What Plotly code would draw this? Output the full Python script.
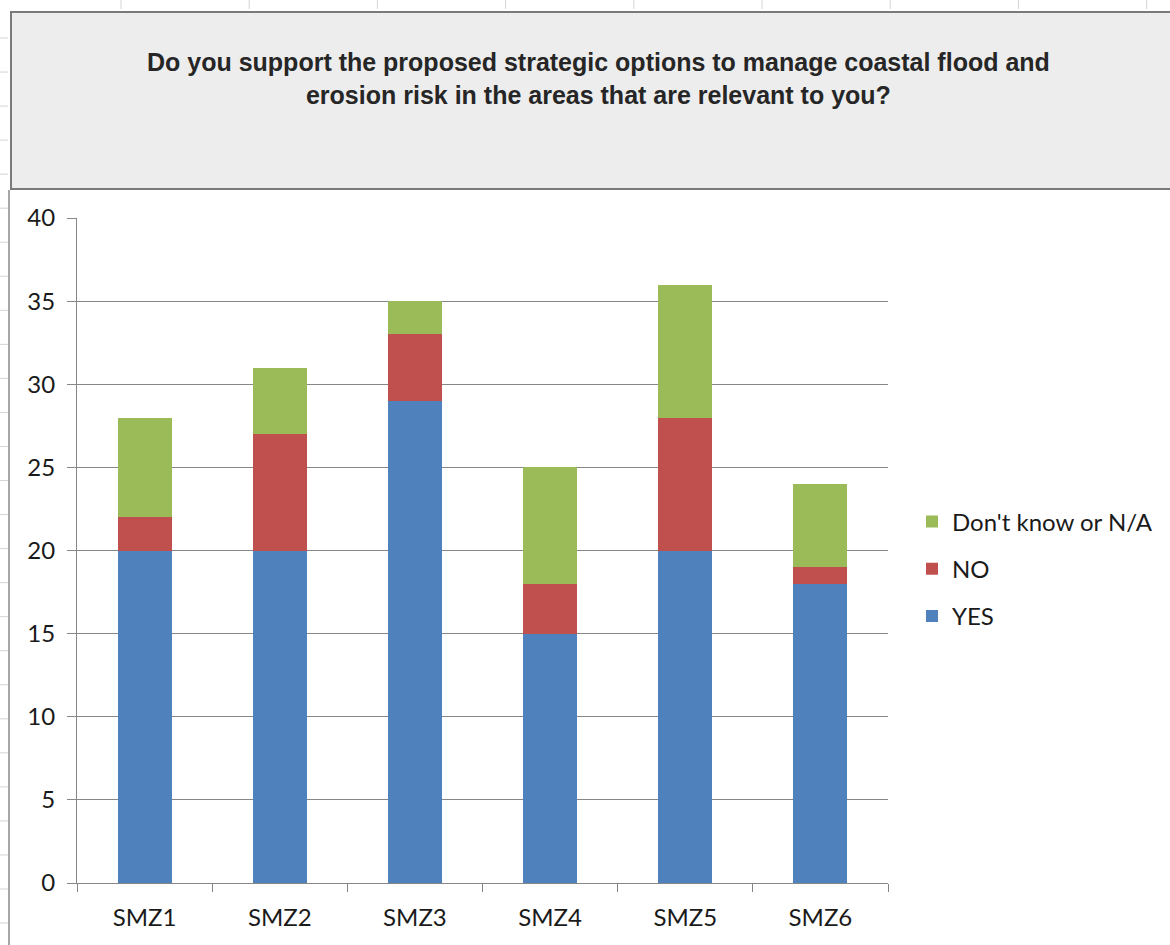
import plotly.graph_objects as go

# Survey responses per shoreline management zone
zones = ["SMZ1", "SMZ2", "SMZ3", "SMZ4", "SMZ5", "SMZ6"]
yes_counts = [20, 20, 29, 15, 20, 18]
no_counts = [2, 7, 4, 3, 8, 1]
dont_know_counts = [6, 4, 2, 7, 8, 5]
y_ticks = [0, 5, 10, 15, 20, 25, 30, 35, 40]

title_text = ("Do you support the proposed strategic options to manage coastal flood and<br>"
              "erosion risk in the areas that are relevant to you?")

W, H = 1170, 945


def px(x):
    return x / W


def py(y):
    return 1 - y / H


# (name, values, colour, legend rank) - stacked bottom to top
series = [
    ("YES", yes_counts, "#4F81BD", 3),
    ("NO", no_counts, "#C0504D", 2),
    ("Don't know or N/A", dont_know_counts, "#9BBB59", 1),
]

fig = go.Figure()
for name, vals, color, rank in series:
    fig.add_trace(go.Bar(
        x=zones, y=vals, name=name, marker=dict(color=color, line=dict(width=0)),
        legendgroup=name, legendrank=rank,
    ))

grid_col = "#868686"
label_font = dict(family="Lato, Calibri, sans-serif", size=24, color="#1a1a1a")

shapes = []
# faint sheet ruler marks along the top edge
for k in range(9):
    xx = 121 + 128.2 * k
    shapes.append(dict(type="line", xref="paper", yref="paper",
                       x0=px(xx), x1=px(xx), y0=py(0), y1=py(9),
                       line=dict(color="#d4d4d4", width=1)))
# faint sheet ruler marks along the left edge
for k in range(27):
    yy = 38 + 34.04 * k
    shapes.append(dict(type="line", xref="paper", yref="paper",
                       x0=px(0), x1=px(8), y0=py(yy), y1=py(yy),
                       line=dict(color="#d4d4d4", width=1)))
# grey header box holding the title
shapes.append(dict(type="rect", xref="paper", yref="paper",
                   x0=px(11), x1=px(1175), y0=py(189), y1=py(12),
                   fillcolor="#ededed", line=dict(color="#7a7a7a", width=2)))
# left edge of the chart area
shapes.append(dict(type="line", xref="paper", yref="paper",
                   x0=px(9), x1=px(9), y0=py(190), y1=py(950),
                   line=dict(color="#a6a6a6", width=2)))

fig.update_layout(
    width=W, height=H, autosize=False,
    margin=dict(l=0, r=0, t=0, b=0, pad=0),
    paper_bgcolor="white", plot_bgcolor="white",
    barmode="stack", bargap=0.6,
    showlegend=True,
    legend=dict(
        x=px(912), xanchor="left", y=py(569), yanchor="middle",
        traceorder="grouped", tracegroupgap=13,
        font=label_font, bgcolor="rgba(0,0,0,0)",
        itemclick=False,
    ),
    xaxis=dict(
        domain=[px(77), px(888)], automargin=False,
        type="category", tickson="boundaries",
        ticks="outside", ticklen=8, tickcolor=grid_col, tickwidth=1,
        showline=True, linecolor=grid_col, linewidth=1,
        showgrid=False, tickfont=label_font, ticklabelstandoff=13,
    ),
    yaxis=dict(
        domain=[py(883), py(218)], automargin=False,
        range=[0, 40], tickvals=y_ticks,
        ticks="outside", ticklen=9, tickcolor=grid_col, tickwidth=1,
        showline=True, linecolor=grid_col, linewidth=1,
        showgrid=True, gridcolor=grid_col, gridwidth=1,
        zeroline=False, tickfont=label_font, ticklabelstandoff=7,
    ),
    shapes=shapes,
    annotations=[dict(
        text=title_text, xref="paper", yref="paper",
        x=px(598), y=py(79), xanchor="center", yanchor="middle",
        showarrow=False, align="center",
        font=dict(family="Liberation Sans, Arial, sans-serif",
                  size=25, color="#262626", weight="bold"),
    )],
)

fig.write_html("out.html")
